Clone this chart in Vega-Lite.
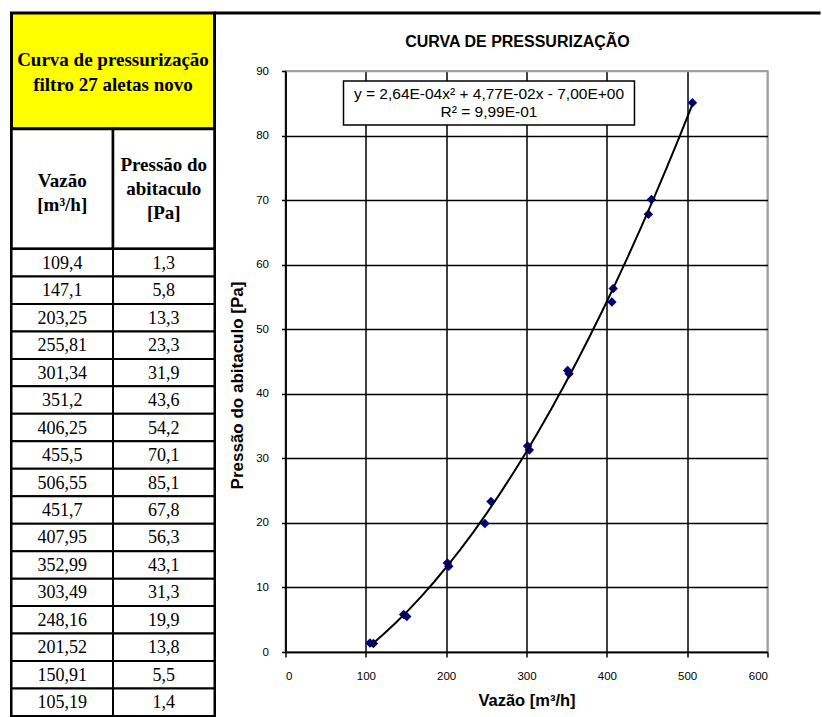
{
  "$schema": "https://vega.github.io/schema/vega-lite/v6.json",
  "padding": {"left": 8.5, "top": 11, "right": 0, "bottom": 0},
  "background": "white",
  "config": {
    "view": {"stroke": null},
    "locale": {"number": {"decimal": ",", "thousands": ".", "grouping": [3], "currency": ["", ""]}}
  },
  "datasets": {
    "pts": [
      {"idx": 1, "vazao": 109.4, "pressao": 1.3},
      {"idx": 2, "vazao": 147.1, "pressao": 5.8},
      {"idx": 3, "vazao": 203.25, "pressao": 13.3},
      {"idx": 4, "vazao": 255.81, "pressao": 23.3},
      {"idx": 5, "vazao": 301.34, "pressao": 31.9},
      {"idx": 6, "vazao": 351.2, "pressao": 43.6},
      {"idx": 7, "vazao": 406.25, "pressao": 54.2},
      {"idx": 8, "vazao": 455.5, "pressao": 70.1},
      {"idx": 9, "vazao": 506.55, "pressao": 85.1},
      {"idx": 10, "vazao": 451.7, "pressao": 67.8},
      {"idx": 11, "vazao": 407.95, "pressao": 56.3},
      {"idx": 12, "vazao": 352.99, "pressao": 43.1},
      {"idx": 13, "vazao": 303.49, "pressao": 31.3},
      {"idx": 14, "vazao": 248.16, "pressao": 19.9},
      {"idx": 15, "vazao": 201.52, "pressao": 13.8},
      {"idx": 16, "vazao": 150.91, "pressao": 5.5},
      {"idx": 17, "vazao": 105.19, "pressao": 1.4}
    ],
    "eqbox": [
      {"eq": "y = 2,64E-04x² + 4,77E-02x - 7,00E+00\nR² = 9,99E-01"}
    ]
  },
  "bounds": "flush",
  "spacing": 203,
  "hconcat": [
    {
      "bounds": "flush",
      "spacing": 0,
      "vconcat": [
        {
          "width": 203,
          "height": 116,
          "view": {"fill": "#ffff00", "stroke": "black", "strokeWidth": 3},
          "data": {"values": [{"t": "Curva de pressurização\nfiltro 27 aletas novo"}]},
          "mark": {"type": "text", "font": "Liberation Serif", "fontWeight": "bold", "fontSize": 19, "lineBreak": "\n", "lineHeight": 25, "color": "black", "dy": -11},
          "encoding": {"text": {"field": "t", "type": "nominal"}}
        },
        {
          "width": 203,
          "height": 120,
          "view": {"stroke": "black", "strokeWidth": 3},
          "data": {"values": [
            {"col": "vazao", "label": "Vazão\n[m³/h]"},
            {"col": "pressao", "label": "Pressão do\nabitaculo\n[Pa]"}
          ]},
          "encoding": {
            "x": {"field": "col", "type": "nominal", "sort": ["vazao", "pressao"], "scale": {"paddingInner": 0, "paddingOuter": 0}, "axis": null}
          },
          "layer": [
            {"mark": {"type": "rect", "fill": "white", "stroke": "black", "strokeWidth": 2.5}},
            {"transform": [{"filter": "datum.col === 'vazao'"}],
             "mark": {"type": "text", "font": "Liberation Serif", "fontWeight": "bold", "fontSize": 19, "lineBreak": "\n", "lineHeight": 24, "color": "black", "dy": -8},
             "encoding": {"text": {"field": "label", "type": "nominal"}}},
            {"transform": [{"filter": "datum.col === 'pressao'"}],
             "mark": {"type": "text", "font": "Liberation Serif", "fontWeight": "bold", "fontSize": 19, "lineBreak": "\n", "lineHeight": 24, "color": "black", "dy": -24},
             "encoding": {"text": {"field": "label", "type": "nominal"}}}
          ]
        },
        {
          "width": 203,
          "height": 467,
          "view": {"stroke": "black", "strokeWidth": 3},
          "data": {"name": "pts"},
          "transform": [{"fold": ["vazao", "pressao"], "as": ["col", "val"]}],
          "encoding": {
            "x": {"field": "col", "type": "nominal", "sort": ["vazao", "pressao"], "scale": {"paddingInner": 0, "paddingOuter": 0}, "axis": null},
            "y": {"field": "idx", "type": "ordinal", "scale": {"paddingInner": 0, "paddingOuter": 0}, "axis": null}
          },
          "layer": [
            {"mark": {"type": "rect", "fill": "white", "stroke": "black", "strokeWidth": 2}},
            {"mark": {"type": "text", "font": "Liberation Serif", "fontSize": 18, "color": "black", "dy": 1},
             "encoding": {"text": {"field": "val", "type": "quantitative", "format": "~f"}}}
          ]
        }
      ]
    },
    {
      "bounds": "flush",
      "spacing": 0,
      "vconcat": [
        {
          "width": 606,
          "height": 57.5,
          "data": {"values": [{"title": "CURVA DE PRESSURIZAÇÃO"}]},
          "layer": [
            {"mark": {"type": "rule", "color": "black", "strokeWidth": 3},
             "encoding": {"y": {"datum": 1, "type": "quantitative", "scale": {"domain": [0, 1]}, "axis": null}}},
            {"mark": {"type": "text", "font": "Liberation Sans", "fontWeight": "bold", "fontSize": 16, "color": "black"},
             "encoding": {"text": {"field": "title", "type": "nominal"}}}
          ]
        },
        {
          "bounds": "flush",
          "spacing": 70,
          "hconcat": [
            {
              "width": 1,
              "height": 1,
              "data": {"values": []},
              "mark": {"type": "point", "opacity": 0}
            },
            {
              "width": 482,
              "height": 581,
              "view": {"stroke": "#a0a0a0", "strokeWidth": 2},
              "layer": [
                {
                  "data": {"name": "pts"},
                  "mark": {"type": "point", "shape": "diamond", "filled": true, "color": "#000080", "size": 90, "opacity": 1},
                  "encoding": {
                    "x": {
                      "field": "vazao", "type": "quantitative",
                      "scale": {"domain": [0, 600], "nice": false},
                      "axis": {
                        "values": [0, 100, 200, 300, 400, 500, 600],
                        "title": "Vazão [m³/h]",
                        "grid": true,
                        "gridColor": {"condition": {"test": "datum.value === 600", "value": "#a0a0a0"}, "value": "black"},
                        "gridWidth": 1.5,
                        "domainColor": "black", "domainWidth": 1.5,
                        "tickColor": "black", "tickSize": 5, "tickWidth": 1.5,
                        "labelFont": "Liberation Sans", "labelFontSize": 11.5, "labelColor": "black", "labelPadding": 13,
                        "titleFont": "Liberation Sans", "titleFontSize": 16.5, "titleFontWeight": "bold", "titleColor": "black", "titlePadding": 11
                      }
                    },
                    "y": {
                      "field": "pressao", "type": "quantitative",
                      "scale": {"domain": [0, 90], "nice": false},
                      "axis": {
                        "values": [0, 10, 20, 30, 40, 50, 60, 70, 80, 90],
                        "title": "Pressão do abitaculo [Pa]",
                        "grid": true,
                        "gridColor": {"condition": {"test": "datum.value === 90", "value": "#a0a0a0"}, "value": "black"},
                        "gridWidth": 1.5,
                        "domainColor": "black", "domainWidth": 1.5,
                        "tickColor": "black", "tickSize": 4, "tickWidth": 1.5,
                        "labelFont": "Liberation Sans", "labelFontSize": 11.5, "labelColor": "black", "labelPadding": 13,
                        "titleFont": "Liberation Sans", "titleFontSize": 17, "titleFontWeight": "bold", "titleColor": "black", "titlePadding": 9,
                        "titleY": 314
                      }
                    }
                  }
                },
                {
                  "data": {"name": "pts"},
                  "transform": [{"regression": "pressao", "on": "vazao", "method": "poly", "order": 2}],
                  "mark": {"type": "line", "color": "black", "strokeWidth": 2},
                  "encoding": {
                    "x": {"field": "vazao", "type": "quantitative"},
                    "y": {"field": "pressao", "type": "quantitative"}
                  }
                },
                {
                  "data": {"name": "eqbox"},
                  "mark": {"type": "rect", "fill": "white", "stroke": "black", "strokeWidth": 1.5},
                  "encoding": {
                    "x": {"datum": 72.2, "type": "quantitative"},
                    "x2": {"datum": 434.4},
                    "y": {"datum": 88.45, "type": "quantitative"},
                    "y2": {"datum": 81.63}
                  }
                },
                {
                  "data": {"name": "eqbox"},
                  "mark": {"type": "text", "font": "Liberation Sans", "fontSize": 15.5, "color": "black", "lineBreak": "\n", "lineHeight": 18},
                  "encoding": {
                    "x": {"datum": 253.3, "type": "quantitative"},
                    "y": {"datum": 86.4, "type": "quantitative"},
                    "text": {"field": "eq", "type": "nominal"}
                  }
                }
              ]
            }
          ]
        }
      ]
    }
  ]
}
